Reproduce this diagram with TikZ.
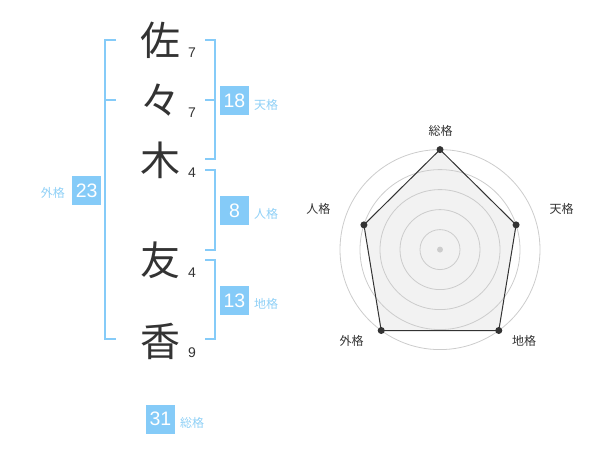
\documentclass[tikz,border=0pt]{standalone}
\usepackage{fontspec}
\setmainfont{Liberation Sans}
\newfontfamily\jpfont{Noto Sans CJK JP}
\usepackage{tikz}
\usetikzlibrary{calc}
\definecolor{inkgray}{HTML}{333333}
\definecolor{skyblue}{HTML}{85CBF8}
\definecolor{skytext}{HTML}{8FD0F6}
\definecolor{ringgray}{HTML}{CCCCCC}
\definecolor{areagray}{HTML}{F2F2F2}

\begin{document}
\begin{tikzpicture}[x=1pt,y=-1pt,
  kanjichar/.style={font=\jpfont\fontsize{40}{40}\selectfont,text=inkgray,inner sep=0pt},
  strokenum/.style={font=\fontsize{14}{14}\selectfont,text=inkgray,inner sep=0pt},
  bracket/.style={skyblue,line width=2pt},
  scorebox/.style={fill=skyblue,text=white,minimum size=29pt,inner sep=0pt,font=\fontsize{19.5}{19.5}\selectfont},
  kakulabel/.style={font=\jpfont\fontsize{12}{12}\selectfont,text=skytext,inner sep=0pt},
  radarlabel/.style={font=\jpfont\fontsize{12}{12}\selectfont,text=inkgray,inner sep=0pt},
  ring/.style={ringgray,line width=0.8pt},
  area/.style={fill=areagray,draw=none}]
\useasboundingbox (0,0) rectangle (600,470);
%Name characters
\node[kanjichar] (sa) at (160,40) {佐};
\node[kanjichar] (noma) at (160,100) {々};
\node[kanjichar] (ki) at (160,160) {木};
\node[kanjichar] (tomo) at (160,260) {友};
\node[kanjichar] (ka) at (160,341) {香};
%Stroke counts
\node[strokenum] (n1) at (192,53) {7};
\node[strokenum] (n2) at (192,113) {7};
\node[strokenum] (n3) at (192,173) {4};
\node[strokenum] (n4) at (192,273) {4};
\node[strokenum] (n5) at (192,353) {9};
%Brackets
\draw[bracket] (205,40) -- (215,40) -- (215,159) -- (205,159);
\draw[bracket] (205,100) -- (215,100);
\draw[bracket] (205,170) -- (215,170) -- (215,250) -- (205,250);
\draw[bracket] (205,260) -- (215,260) -- (215,339) -- (205,339);
\draw[bracket] (116,40) -- (105,40) -- (105,339) -- (116,339);
\draw[bracket] (105,100) -- (116,100);
%Scores
\node[scorebox] (ten) at (234.5,100.5) {18};
\node[kakulabel,anchor=west] (tenlbl) at (254,104.5) {天格};
\node[scorebox] (jin) at (234.5,210.5) {8};
\node[kakulabel,anchor=west] (jinlbl) at (254,214) {人格};
\node[scorebox] (chi) at (234.5,300.5) {13};
\node[kakulabel,anchor=west] (chilbl) at (254,304) {地格};
\node[scorebox] (gai) at (86.7,190.3) {23};
\node[kakulabel,anchor=east] (gailbl) at (65,193) {外格};
\node[scorebox] (sou) at (160.5,419) {31};
\node[kakulabel,anchor=west] (soulbl) at (180,422.5) {総格};
%Radar chart
\coordinate (rc) at (440,249.6);
\coordinate (psou) at ($(rc)+(-90:100)$);
\coordinate (pten) at ($(rc)+(-18:80)$);
\coordinate (pchi) at ($(rc)+(54:100)$);
\coordinate (pgai) at ($(rc)+(126:100)$);
\coordinate (pjin) at ($(rc)+(198:80)$);
\fill[area] (psou) -- (pten) -- (pchi) -- (pgai) -- (pjin) -- cycle;
\foreach \r in {20,40,60,80,100}
  \draw[ring] (rc) circle[radius=\r pt];
\draw[inkgray,line width=1pt] (psou) -- (pten) -- (pchi) -- (pgai) -- (pjin) -- cycle;
\foreach \p in {psou,pten,pchi,pgai,pjin}
  \fill[inkgray] (\p) circle[radius=3.5pt];
\fill[ringgray] (rc) circle[radius=3pt];
\node[radarlabel] (rsou) at (440.7,130.7) {総格};
\node[radarlabel] (rten) at (561.7,209) {天格};
\node[radarlabel] (rchi) at (524,340.7) {地格};
\node[radarlabel] (rgai) at (351.7,340.7) {外格};
\node[radarlabel] (rjin) at (318.3,209) {人格};
\end{tikzpicture}
\end{document}
